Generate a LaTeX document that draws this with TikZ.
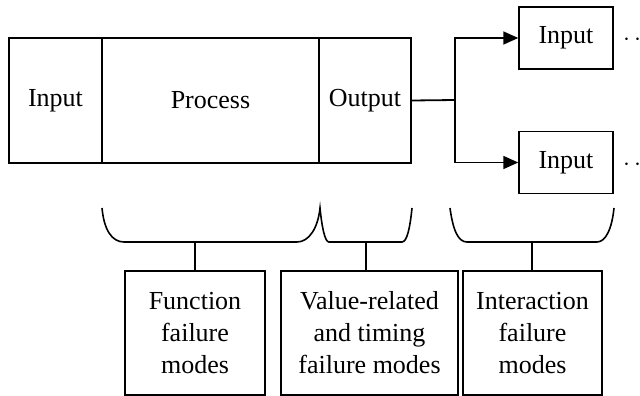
\documentclass[tikz,border=0pt]{standalone}
\usepackage{fontspec}
\setmainfont{Liberation Serif}
\usetikzlibrary{arrows.meta}
\begin{document}
\begin{tikzpicture}[x=1pt,y=-1pt,
  every node/.style={font=\fontsize{26}{32}\selectfont},
  cell/.style={draw,line width=1.8pt,inner sep=0pt,minimum height=125pt},
  smallbox/.style={draw,line width=1.5pt,inner sep=0pt,minimum width=94pt,minimum height=62pt},
  fmbox/.style={draw,line width=1.1pt,inner sep=0pt,minimum height=124pt,align=center},
  conn/.style={line width=1.8pt},
  arr/.style={line width=1.8pt,-{Triangle[length=15pt,width=13pt]}},
  brace/.style={line width=1.6pt},
  stem/.style={line width=1.5pt}]
\useasboundingbox (0,0) rectangle (640,396);
% main box
\node[cell,minimum width=93pt] (inp) at (55.5,100.5) {Input};
\node[cell,minimum width=217pt] (proc) at (210.5,100.5) {Process};
\node[cell,minimum width=92pt] (outp) at (365,100.5) {Output};
% branch
\coordinate (br) at (455,100);
\node[smallbox] (in1) at (566,38) {Input};
\node[smallbox] (in2) at (566,162.5) {Input};
\node[anchor=base west,inner sep=0pt] (d1) at (623,45.5) {$\cdots$};
\node[anchor=base west,inner sep=0pt] (d2) at (623,170) {$\cdots$};
\draw[conn] (outp.east) -- (br);
\draw[arr] (br) |- (in1.west);
\draw[arr] (br) |- (in2.west);
% braces
\coordinate (b1) at (195,242);
\coordinate (b2) at (366,242);
\coordinate (b3) at (532,242);
\draw[brace] (102,208) .. controls (104,230) and (112,242) .. (124,242) -- (297,242)
  .. controls (309,242) and (318,228) .. (320,208)
  .. controls (322,228) and (325,242) .. (329,242) -- (402,242)
  .. controls (407,242) and (410,228) .. (412,208);
\draw[brace] (450,208) .. controls (453,230) and (458,242) .. (467,242) -- (597,242)
  .. controls (606,242) and (612,228) .. (614,208);
% failure mode boxes
\node[fmbox,minimum width=140pt] (f1) at (195,333) {Function\\failure\\modes};
\node[fmbox,minimum width=177pt] (f2) at (369.5,333) {Value-related\\and timing\\failure modes};
\node[fmbox,minimum width=139pt] (f3) at (532.5,333) {Interaction\\failure\\modes};
\draw[stem] (b1) -- (f1.north -| b1);
\draw[stem] (b2) -- (f2.north -| b2);
\draw[stem] (b3) -- (f3.north -| b3);
\end{tikzpicture}
\end{document}
